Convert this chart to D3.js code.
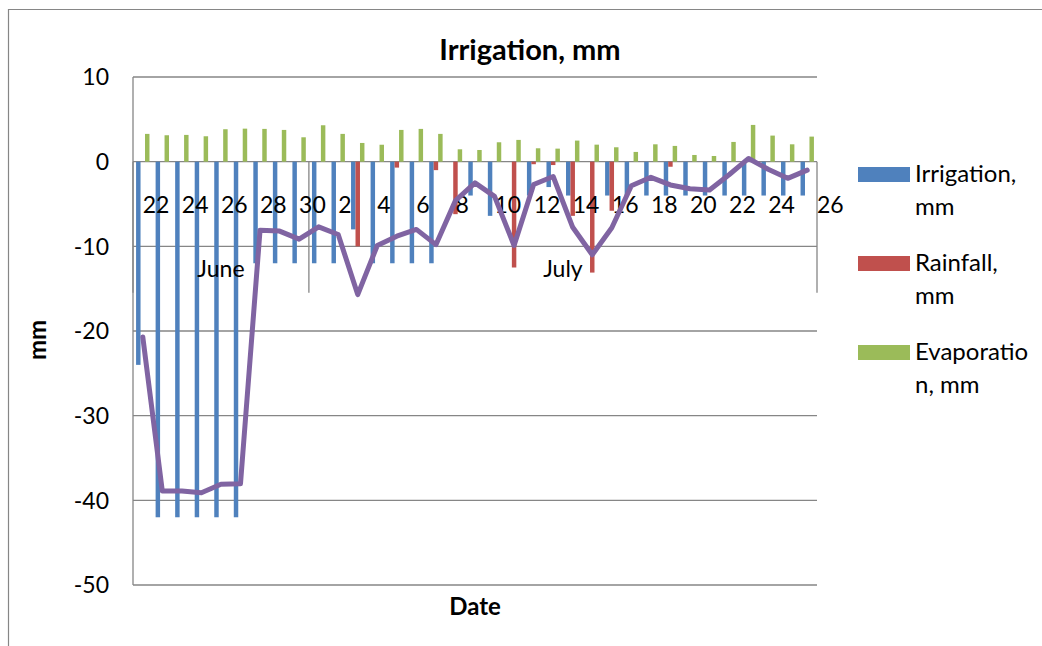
<!DOCTYPE html>
<html>
<head>
<meta charset="utf-8">
<script src="https://cdn.jsdelivr.net/npm/d3@7"></script>
<style>
  body { margin: 0; background: #fff; }
  svg { display: block; font-family: Lato, "Open Sans", sans-serif; }
</style>
</head>
<body>
<div id="chart"></div>
<script>
// days on the category axis, grouped by month
const juneDays = [22, 23, 24, 25, 26, 27, 28, 29, 30];
const julyDays = [1, 2, 3, 4, 5, 6, 7, 8, 9, 10, 11, 12, 13, 14, 15, 16, 17, 18, 19, 20, 21, 22, 23, 24, 25, 26];
const monthNames = ["June", "July"];

// mm per day
const irrigation = [-24, -42, -42, -42, -42, -42, -12, -12, -12, -12, -12, -8, -12, -12, -12, -12, 0, -4, -6.4, 0,
  -4, -3, -4, 0, -4, -4, -4, -4, -4, -4, -4, -4, -4, -4, -4];
const rainfall = [0, 0, 0, 0, 0, 0, 0, 0, 0, 0, 0, -10, 0, -0.7, 0, -1, -6.2, 0, 0, -12.5,
  -0.3, -0.4, -6.4, -13.1, -5.8, 0, 0, -0.6, 0, 0, 0, 0, 0, 0, 0];
const evaporation = [3.28, 3.12, 3.16, 3.0, 3.83, 3.9, 3.87, 3.75, 2.88, 4.3, 3.28, 2.21, 2.0, 3.75, 3.87, 3.28, 1.46, 1.38, 2.29, 2.57,
  1.58, 1.54, 2.49, 2.01, 1.7, 1.15, 2.05, 1.86, 0.79, 0.67, 2.33, 4.34, 3.08, 2.05, 2.96];
const balance = [-20.7, -38.9, -38.9, -39.1, -38.1, -38.05, -8.1, -8.2, -9.15, -7.7, -8.6, -15.7, -9.9, -8.8, -8.0, -9.8, -4.6, -2.5, -4.1, -9.9,
  -2.7, -1.75, -7.75, -11.0, -7.8, -2.85, -1.85, -2.75, -3.2, -3.35, -1.55, 0.38, -0.9, -1.97, -1.0];

const yTicks = [10, 0, -10, -20, -30, -40, -50];
const legendLines = [["Irrigation,", "mm"], ["Rainfall,", "mm"], ["Evaporatio", "n, mm"]];
const colors = ["#4f81bd", "#c0504d", "#9bbb59"];
const lineColor = "#8064a2";
const gridColor = "#868686";

const categories = [
  ...juneDays.map(d => ({ day: d, month: 0 })),
  ...julyDays.map(d => ({ day: d, month: 1 }))
];
const series = [irrigation, rainfall, evaporation];

const width = 1042, height = 646;
const svg = d3.select("#chart").append("svg")
  .attr("width", width)
  .attr("height", height);

// chart area border (runs off the picture to the right and bottom)
svg.append("path")
  .attr("d", `M8.5,${height} V9.5 H${width}`)
  .attr("fill", "none")
  .attr("stroke", gridColor)
  .attr("stroke-width", 1.2);

const x = d3.scaleBand()
  .domain(d3.range(categories.length))
  .range([133, 817]);

const inner = d3.scaleBand()
  .domain(d3.range(series.length))
  .range([-6.7, 6.7]);

const y = d3.scaleLinear()
  .domain([-50, 10])
  .range([585, 77]);

// gridlines
svg.append("g")
  .selectAll("line")
  .data(yTicks)
  .join("line")
  .attr("x1", x.range()[0])
  .attr("x2", x.range()[1])
  .attr("y1", d => y(d))
  .attr("y2", d => y(d))
  .attr("stroke", gridColor)
  .attr("stroke-width", 1.3);

// value axis line
svg.append("line")
  .attr("x1", x.range()[0]).attr("x2", x.range()[0])
  .attr("y1", y(10)).attr("y2", y(-50))
  .attr("stroke", gridColor)
  .attr("stroke-width", 1.3);

// y tick labels
svg.append("g")
  .selectAll("text")
  .data(yTicks)
  .join("text")
  .attr("x", 109)
  .attr("y", d => y(d))
  .attr("dy", "0.36em")
  .attr("text-anchor", "end")
  .attr("font-size", 23)
  .text(d => d);

// bars
series.forEach((vals, s) => {
  svg.append("g")
    .selectAll("rect")
    .data(vals)
    .join("rect")
    .attr("x", (d, i) => x(i) + x.bandwidth() / 2 + inner(s))
    .attr("width", inner.bandwidth())
    .attr("y", d => y(Math.max(0, d)))
    .attr("height", d => Math.abs(y(d) - y(0)))
    .attr("fill", colors[s]);
});

// category axis at zero, with month group separators
const y0 = y(0);
const monthStarts = monthNames.map((m, k) => categories.findIndex(c => c.month === k));
const groupEdges = [...monthStarts.map(i => x(i)), x.range()[1]];
svg.append("g")
  .selectAll("line")
  .data(groupEdges)
  .join("line")
  .attr("x1", d => d).attr("x2", d => d)
  .attr("y1", y0).attr("y2", y0 + 131)
  .attr("stroke", gridColor)
  .attr("stroke-width", 1.3);

const last = categories.length - 1;
svg.append("g")
  .selectAll("text")
  .data(categories.filter((c, i) => i % 2 === 0).map((c, k) => ({ ...c, i: k * 2 })))
  .join("text")
  .attr("x", d => d.i === last ? x.range()[1] : x(d.i) + x.bandwidth() / 2)
  .attr("y", y0 + 51)
  .attr("font-size", 23)
  .text(d => d.day);

svg.append("g")
  .selectAll("text")
  .data(monthNames)
  .join("text")
  .attr("x", (d, k) => (groupEdges[k] + groupEdges[k + 1]) / 2)
  .attr("y", y0 + 115)
  .attr("text-anchor", "middle")
  .attr("font-size", 23)
  .text(d => d);

// net balance line
const line = d3.line()
  .x((d, i) => x(i) + x.bandwidth() / 2)
  .y(d => y(d));
svg.append("path")
  .datum(balance)
  .attr("d", line)
  .attr("fill", "none")
  .attr("stroke", lineColor)
  .attr("stroke-width", 5)
  .attr("stroke-linejoin", "round")
  .attr("stroke-linecap", "round");

// titles
svg.append("text")
  .attr("x", 530)
  .attr("y", 60)
  .attr("text-anchor", "middle")
  .attr("font-size", 29)
  .attr("font-weight", "bold")
  .text("Irrigation, mm");

svg.append("text")
  .attr("x", 475)
  .attr("y", 615)
  .attr("text-anchor", "middle")
  .attr("font-size", 24)
  .attr("font-weight", "bold")
  .text("Date");

svg.append("text")
  .attr("transform", "translate(46,340) rotate(-90)")
  .attr("text-anchor", "middle")
  .attr("font-size", 24)
  .attr("font-weight", "bold")
  .text("mm");

// legend
const legend = svg.append("g")
  .selectAll("g")
  .data(legendLines)
  .join("g")
  .attr("transform", (d, i) => `translate(858,${182 + i * 89})`);

legend.append("rect")
  .attr("x", 0)
  .attr("y", -15)
  .attr("width", 52)
  .attr("height", 15)
  .attr("fill", (d, i) => colors[i]);

legend.append("text")
  .attr("font-size", 24)
  .selectAll("tspan")
  .data(d => d)
  .join("tspan")
  .attr("x", 57)
  .attr("y", (d, j) => j * 33)
  .text(d => d);
</script>
</body>
</html>
